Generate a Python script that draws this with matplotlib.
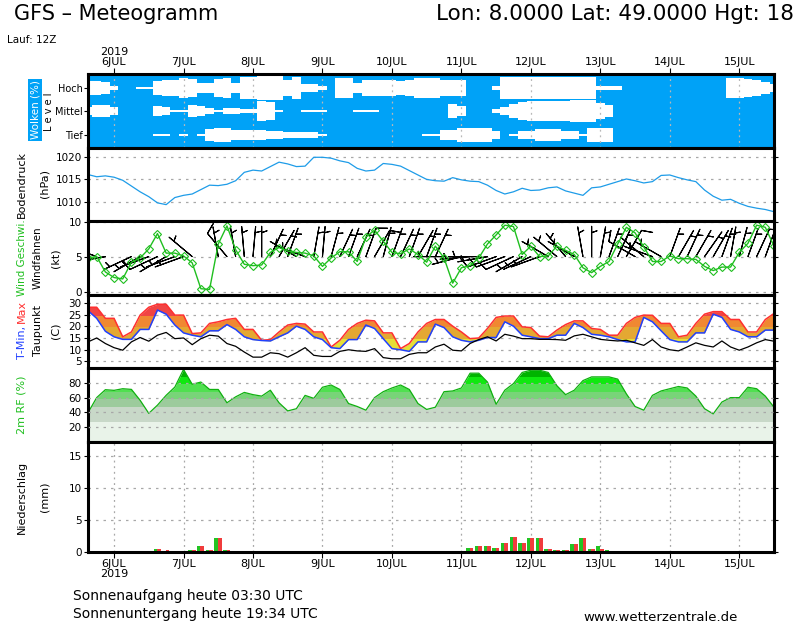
import numpy as np
import matplotlib
matplotlib.use("Agg")
import matplotlib.pyplot as plt
from matplotlib.patches import Rectangle

plt.rcParams['font.family'] = ['DejaVu Sans']

# ---------------- data (forecast hours relative to 6 JUL 2019 00Z) ----------------
hours = np.arange(-9, 229, 3)

day_hours = [0, 24, 48, 72, 96, 120, 144, 168, 192, 216]
day_labels = ['6JUL', '7JUL', '8JUL', '9JUL', '10JUL', '11JUL', '12JUL', '13JUL', '14JUL', '15JUL']
year_label = '2019'

cloud_high = [60, 60, 50, 20, 0, 0, 5, 5, 55, 65,
              65, 85, 75, 40, 40, 75, 80, 45, 95, 95,
              100, 100, 100, 70, 90, 30, 30, 15, 0, 80,
              80, 40, 70, 70, 70, 70, 60, 65, 80, 80,
              80, 65, 65, 65, 0, 0, 0, 15, 95, 95,
              95, 95, 95, 95, 95, 95, 95, 95, 95, 20,
              20, 15, 0, 0, 0, 0, 0, 0, 0, 0,
              0, 0, 0, 0, 80, 85, 75, 70, 50, 30]
cloud_mid = [35, 50, 50, 35, 0, 0, 0, 0, 45, 30,
             5, 5, 50, 45, 25, 10, 25, 25, 20, 20,
             80, 75, 8, 0, 0, 8, 8, 8, 0, 0,
             0, 10, 12, 10, 0, 0, 0, 0, 0, 0,
             0, 0, 55, 45, 0, 0, 0, 20, 30, 55,
             75, 80, 80, 80, 85, 85, 90, 90, 90, 70,
             50, 0, 0, 0, 0, 0, 0, 0, 0, 0,
             0, 0, 0, 0, 0, 0, 0, 0, 0, 0]
cloud_low = [0, 0, 0, 0, 0, 0, 0, 0, 8, 8,
             0, 8, 0, 8, 50, 55, 55, 45, 40, 40,
             45, 35, 30, 25, 25, 25, 25, 10, 0, 0,
             0, 0, 0, 0, 0, 0, 0, 0, 0, 5,
             5, 40, 40, 55, 55, 55, 55, 30, 0, 8,
             35, 35, 50, 50, 50, 30, 30, 10, 55, 55,
             55, 0, 0, 0, 0, 0, 0, 0, 0, 0,
             0, 0, 0, 0, 0, 0, 0, 0, 0, 0]

pressure = [1016.1, 1015.6, 1015.8, 1015.5, 1014.8, 1013.5, 1012.2, 1011.1, 1009.7, 1009.3,
            1010.9, 1011.4, 1011.7, 1012.7, 1013.7, 1013.6, 1013.9, 1014.7, 1016.6, 1017.1,
            1016.9, 1017.9, 1018.9, 1018.5, 1017.9, 1018.0, 1020.0, 1020.0, 1019.8, 1019.2,
            1018.8, 1017.5, 1016.9, 1017.1, 1018.6, 1018.4, 1018.0, 1017.0, 1016.0, 1015.0,
            1014.7, 1014.6, 1015.4, 1014.9, 1014.6, 1014.5, 1013.7, 1012.5, 1011.7, 1012.2,
            1013.0, 1012.5, 1012.6, 1013.1, 1013.3, 1012.4, 1011.9, 1011.4, 1013.1, 1013.3,
            1013.9, 1014.5, 1015.1, 1014.7, 1014.2, 1014.5, 1015.9, 1016.0, 1015.4, 1014.9,
            1014.5, 1012.6, 1011.2, 1010.3, 1010.5, 1009.6, 1008.9, 1008.5, 1008.2, 1007.7]

wind_speed = [4.8, 5.0, 2.8, 2.0, 1.8, 4.2, 4.8, 6.1, 8.3, 5.5,
              5.5, 5.1, 4.1, 0.4, 0.3, 6.8, 9.4, 6.0, 3.9, 3.7,
              3.8, 5.6, 6.3, 5.8, 5.6, 5.5, 5.1, 3.6, 4.8, 5.7,
              5.7, 4.3, 7.8, 8.8, 7.2, 5.6, 5.4, 6.1, 5.3, 4.2,
              6.5, 4.8, 1.2, 3.4, 3.7, 4.8, 6.8, 8.1, 9.5, 9.3,
              5.3, 6.5, 5.0, 5.1, 6.5, 5.9, 5.3, 3.4, 2.7, 3.6,
              4.3, 6.8, 9.2, 8.4, 6.4, 4.3, 4.3, 5.1, 4.7, 4.7,
              4.6, 3.6, 3.0, 3.5, 3.5, 5.6, 6.9, 9.5, 9.2, 6.5]
wind_dir = [300, 290, 260, 250, 240, 245, 240, 250, 245, 240,
            250, 250, 310, 280, 330, 350, 320, 350, 355, 5,
            0, 25, 30, 20, 300, 290, 10, 5, 15, 25,
            20, 25, 20, 30, 15, 20, 25, 20, 30, 20,
            25, 270, 260, 255, 265, 270, 260, 250, 250, 245,
            240, 245, 250, 300, 310, 320, 300, 350, 0, 10,
            20, 25, 30, 300, 310, 290, 300, 20, 30, 25,
            30, 35, 30, 20, 10, 15, 20, 25, 20, 25]

t_max = [28.3, 28.3, 23.5, 23.5, 15.5, 17.6, 24.9, 28.3, 29.6, 29.6,
         24.9, 24.9, 16.9, 17.2, 21.3, 22.0, 23.0, 23.5, 18.7, 18.7,
         14.0, 14.3, 17.6, 20.6, 21.3, 21.0, 17.6, 17.6, 11.1, 14.0,
         18.7, 21.3, 22.7, 22.4, 17.2, 17.2, 10.4, 12.6, 17.6, 21.3,
         23.0, 23.0, 20.1, 17.6, 14.7, 15.0, 19.1, 23.9, 24.5, 24.5,
         19.8, 19.5, 15.8, 15.5, 18.4, 20.8, 22.4, 22.4, 19.1, 18.7,
         16.2, 16.2, 21.3, 23.9, 24.9, 24.8, 21.3, 21.3, 15.5, 16.2,
         21.3, 25.3, 26.4, 26.4, 23.0, 23.0, 17.6, 17.6, 23.0, 25.6]
t_min = [26.8, 23.5, 17.9, 15.5, 14.4, 14.4, 18.7, 18.7, 27.1, 25.3,
         20.6, 17.2, 16.2, 15.5, 18.1, 18.1, 20.8, 18.7, 15.5, 14.3,
         13.9, 13.7, 15.5, 17.2, 20.1, 18.7, 15.5, 14.3, 10.8, 10.4,
         14.3, 14.3, 20.6, 19.1, 14.7, 10.4, 9.9, 9.2, 13.3, 13.3,
         21.0, 19.5, 15.5, 14.0, 13.3, 14.0, 15.2, 15.2, 22.0, 20.1,
         16.2, 15.5, 14.7, 14.7, 16.2, 16.2, 21.3, 19.5, 16.6, 16.2,
         15.5, 14.3, 13.3, 13.3, 23.9, 22.0, 18.1, 14.3, 13.3, 13.3,
         17.2, 17.2, 25.3, 23.9, 18.7, 17.6, 15.5, 15.5, 18.4, 18.4]
dewpoint = [13.3, 15.0, 12.6, 10.8, 9.7, 13.3, 15.2, 13.6, 16.2, 17.4,
            14.7, 15.0, 12.1, 14.7, 16.2, 15.8, 12.6, 11.4, 8.9, 6.7,
            6.7, 8.6, 8.2, 6.7, 8.6, 10.8, 7.5, 7.0, 7.0, 9.2,
            9.9, 9.4, 9.2, 10.4, 6.5, 6.0, 6.0, 7.9, 8.6, 8.6,
            11.1, 12.3, 9.7, 9.4, 12.6, 14.3, 15.5, 13.7, 16.6, 15.8,
            14.7, 14.7, 14.4, 14.4, 14.3, 14.0, 15.9, 16.6, 15.5, 14.4,
            14.0, 13.7, 14.0, 12.9, 11.8, 14.3, 11.1, 9.9, 9.4, 11.1,
            12.9, 11.8, 11.1, 13.7, 11.1, 9.7, 11.1, 12.9, 14.3, 13.6]

rel_hum = [39.6, 60, 70.7, 69.8, 72, 71.1, 56.4, 38.7, 49.8, 63.1,
           74.2, 98, 78, 81, 71, 71, 53, 61, 67, 64,
           62, 70, 53, 42, 45, 63, 59, 74, 77, 71,
           52, 48, 43, 60, 68, 73, 77, 71, 52, 44,
           47, 68, 69, 73, 93, 93, 81, 51, 70, 79,
           94, 97, 97, 94, 76, 64, 70, 83, 88, 88,
           88, 85, 65, 48, 43, 63, 69, 72, 75, 73,
           62, 45, 38, 54, 60, 60, 74, 72, 62, 47]

rain_hours = [15, 18, 27, 30, 33, 36, 39, 42, 123, 126, 129, 132, 135, 138, 141,
              144, 147, 150, 153, 156, 159, 162, 165, 168, 171]
rain_green = [0.5, 0.2, 0.25, 0.94, 0.3, 2.24, 0.3, 0.1, 0.68, 0.94, 0.9, 0.68, 1.46, 2.3, 1.4,
              2.2, 2.2, 0.5, 0.3, 0.25, 1.25, 2.2, 0.5, 0.94, 0.3]
rain_red = [0.47, 0.3, 0.3, 0.94, 0.3, 2.24, 0.3, 0.15, 0.57, 0.94, 0.9, 0.6, 1.35, 2.35, 1.4,
            2.2, 2.2, 0.5, 0.3, 0.3, 1.25, 2.2, 0.5, 0.4, 0.0]

# ---------------- styling ----------------
X0, X1 = -9, 228
SKY = '#00a2f7'
GRID = '#a8a8a8'
GREEN = '#1fbf1f'
FIG_W, FIG_H = 800, 625
TICK_FS = 7.5

fig = plt.figure(figsize=(8, 6.25), dpi=100)


def px_axes(top, bottom):
    return fig.add_axes([88 / FIG_W, 1 - bottom / FIG_H, 686 / FIG_W, (bottom - top) / FIG_H])


def style(ax, yticks, ylim, xgrid=False):
    ax.set_xlim(X0, X1)
    ax.set_ylim(*ylim)
    ax.set_yticks(yticks)
    for s in ax.spines.values():
        s.set_linewidth(2.2)
        s.set_color('black')
    ax.tick_params(axis='y', which='both', direction='out', length=3, width=0.8,
                   labelsize=TICK_FS, pad=1.5, right=True, labelright=False)
    ax.grid(axis='y', color=GRID, linestyle=(0, (2, 4)), linewidth=0.9)
    if xgrid:
        ax.set_xticks(day_hours)
        ax.grid(axis='x', color=GRID, linestyle=(0, (1.5, 3)), linewidth=0.9)
    else:
        ax.set_xticks([])
    ax.set_axisbelow(True)


def flabel(x, y, s, color='black', size=8, **kw):
    fig.text(x / FIG_W, 1 - y / FIG_H, s, rotation=90, ha='center', va='center',
             color=color, fontsize=size, **kw)


# ---- clouds ----
ax_c = px_axes(74, 148)
ax_c.set_facecolor(SKY)
levels = {'Tief': 13, 'Mittel': 37, 'Hoch': 60}
scale = 12 / 100.0
for name, cover in (('Hoch', cloud_high), ('Mittel', cloud_mid), ('Tief', cloud_low)):
    c = np.asarray(cover, float) * scale
    ax_c.fill_between(hours, levels[name] - c, levels[name] + c, step='mid',
                      color='white', linewidth=0)
ax_c.set_xlim(X0, X1)
ax_c.set_ylim(0, 74)
ax_c.set_yticks([levels['Hoch'], levels['Mittel'], levels['Tief']])
ax_c.set_yticklabels(['Hoch', 'Mittel', 'Tief'], fontsize=7)
ax_c.tick_params(axis='y', direction='out', length=3, width=0.8, pad=1)
ax_c.xaxis.tick_top()
ax_c.set_xticks(day_hours)
ax_c.set_xticklabels([year_label + '\n' + day_labels[0]] + day_labels[1:], fontsize=8,
                     linespacing=1.05)
ax_c.tick_params(axis='x', direction='out', length=4, width=0.8, pad=1)
ax_c.grid(axis='x', color='#b8b8b8', linestyle=(0, (1.5, 3)), linewidth=0.9)
for s in ax_c.spines.values():
    s.set_linewidth(2.2)

# ---- pressure ----
ax_p = px_axes(148, 221)
style(ax_p, [1010, 1015, 1020], (1005.6, 1022.1))
ax_p.plot(hours, pressure, color='#1e9ce8', linewidth=0.9)

# ---- wind ----
ax_w = px_axes(221, 295)
style(ax_w, [0, 5, 10], (-0.5, 10.1))
spd = np.asarray(wind_speed, float)
rad = np.deg2rad(np.asarray(wind_dir, float))
u = -spd * np.sin(rad)
v = -spd * np.cos(rad)
ax_w.barbs(hours, np.full(len(hours), 5.0), u, v, length=6.6, linewidth=0.8,
           color='black', sizes=dict(emptybarb=0, height=0.35, spacing=0.14, width=0.25))
ax_w.plot(hours, wind_speed, color=GREEN, linewidth=1.0, marker='D', markersize=4,
          markerfacecolor='none', markeredgecolor=GREEN, markeredgewidth=0.8)

# ---- temperature ----
ax_t = px_axes(295, 368)
style(ax_t, [5, 10, 15, 20, 25, 30], (2.0, 33.6))
t_bands = [(-50, 15, '#e6de36'), (15, 20, '#e4a832'), (20, 25, '#f08832'), (25, 60, '#f04444')]
for lo, hi, col in t_bands:
    poly = ax_t.fill_between(hours, t_min, t_max, color=col, linewidth=0)
    poly.set_clip_path(Rectangle((X0 - 10, lo), X1 - X0 + 20, hi - lo,
                                 transform=ax_t.transData))
ax_t.plot(hours, t_max, color='#ff3030', linewidth=1.1)
ax_t.plot(hours, t_min, color='#2040ff', linewidth=1.1)
ax_t.plot(hours, dewpoint, color='black', linewidth=0.9)

# ---- relative humidity ----
ax_r = px_axes(368, 442)
style(ax_r, [20, 40, 60, 80], (0, 100))
rh_bands = [(0, 29, '#e9f3e9'), (29, 49, '#c8d8c8'), (49, 60, '#9ccb9c'),
            (60, 69, '#78d478'), (69, 80, '#50e050'), (80, 89, '#10e810'), (89, 101, '#00b400')]
for lo, hi, col in rh_bands:
    poly = ax_r.fill_between(hours, 0, rel_hum, color=col, linewidth=0)
    poly.set_clip_path(Rectangle((X0 - 10, lo), X1 - X0 + 20, hi - lo,
                                 transform=ax_r.transData))
ax_r.plot(hours, rel_hum, color='#10b010', linewidth=0.9)
ax_r.set_axisbelow(False)
for gl in ax_r.get_ygridlines():
    gl.set_zorder(3)

# ---- precipitation ----
ax_n = px_axes(442, 552)
style(ax_n, [0, 5, 10, 15], (0, 17.2), xgrid=True)
rh_arr = np.asarray(rain_hours, float)
ax_n.bar(rh_arr - 0.7, rain_green, width=1.3, color='#22c422', linewidth=0)
ax_n.bar(rh_arr + 0.5, rain_red, width=1.3, color='#f03c3c', linewidth=0)
ax_n.set_xticklabels([day_labels[0] + '\n' + year_label] + day_labels[1:], fontsize=8,
                     linespacing=1.05)
ax_n.tick_params(axis='x', direction='out', length=4, width=0.8, pad=1)

# ---------------- axis labels ----------------
flabel(35, 110, 'Wolken (%)', color='white', size=7.5,
       bbox=dict(facecolor=SKY, edgecolor='none', pad=1.2))
flabel(49, 112, 'L e v e l', size=7)
flabel(22, 184, 'Bodendruck')
flabel(45, 184, '(hPa)')
flabel(22, 258, 'Wind Geschwi.', color=GREEN, size=7.5)
flabel(38, 258, 'Windfahnen', size=7.5)
flabel(55, 258, '(kt)')
fig.text(22 / FIG_W, 1 - 326 / FIG_H, 'T-Min,', rotation=90, ha='center', va='top',
         color='#2040ff', fontsize=8)
fig.text(22 / FIG_W, 1 - 323 / FIG_H, 'Max', rotation=90, ha='center', va='bottom',
         color='#ff3030', fontsize=8)
flabel(38, 331, 'Taupunkt')
flabel(55, 331, '(C)')
flabel(22, 405, '2m RF (%)', color=GREEN)
flabel(22, 497, 'Niederschlag')
flabel(45, 497, '(mm)')

# ---------------- header / footer texts ----------------
fig.text(14 / FIG_W, 1 - 20 / FIG_H, 'GFS – Meteogramm', fontsize=15, va='baseline')
fig.text(436 / FIG_W, 1 - 20 / FIG_H, 'Lon: 8.0000 Lat: 49.0000 Hgt: 18', fontsize=15.5,
         va='baseline')
fig.text(7 / FIG_W, 1 - 43 / FIG_H, 'Lauf: 12Z', fontsize=7.5, va='baseline')
fig.text(73 / FIG_W, 1 - 600 / FIG_H, 'Sonnenaufgang heute 03:30 UTC', fontsize=10,
         va='baseline')
fig.text(73 / FIG_W, 1 - 618 / FIG_H, 'Sonnenuntergang heute 19:34 UTC', fontsize=10,
         va='baseline')
fig.text(583 / FIG_W, 1 - 621 / FIG_H, 'www.wetterzentrale.de', fontsize=9.5, va='baseline')

fig.savefig('out.png', dpi=100, facecolor='white')
